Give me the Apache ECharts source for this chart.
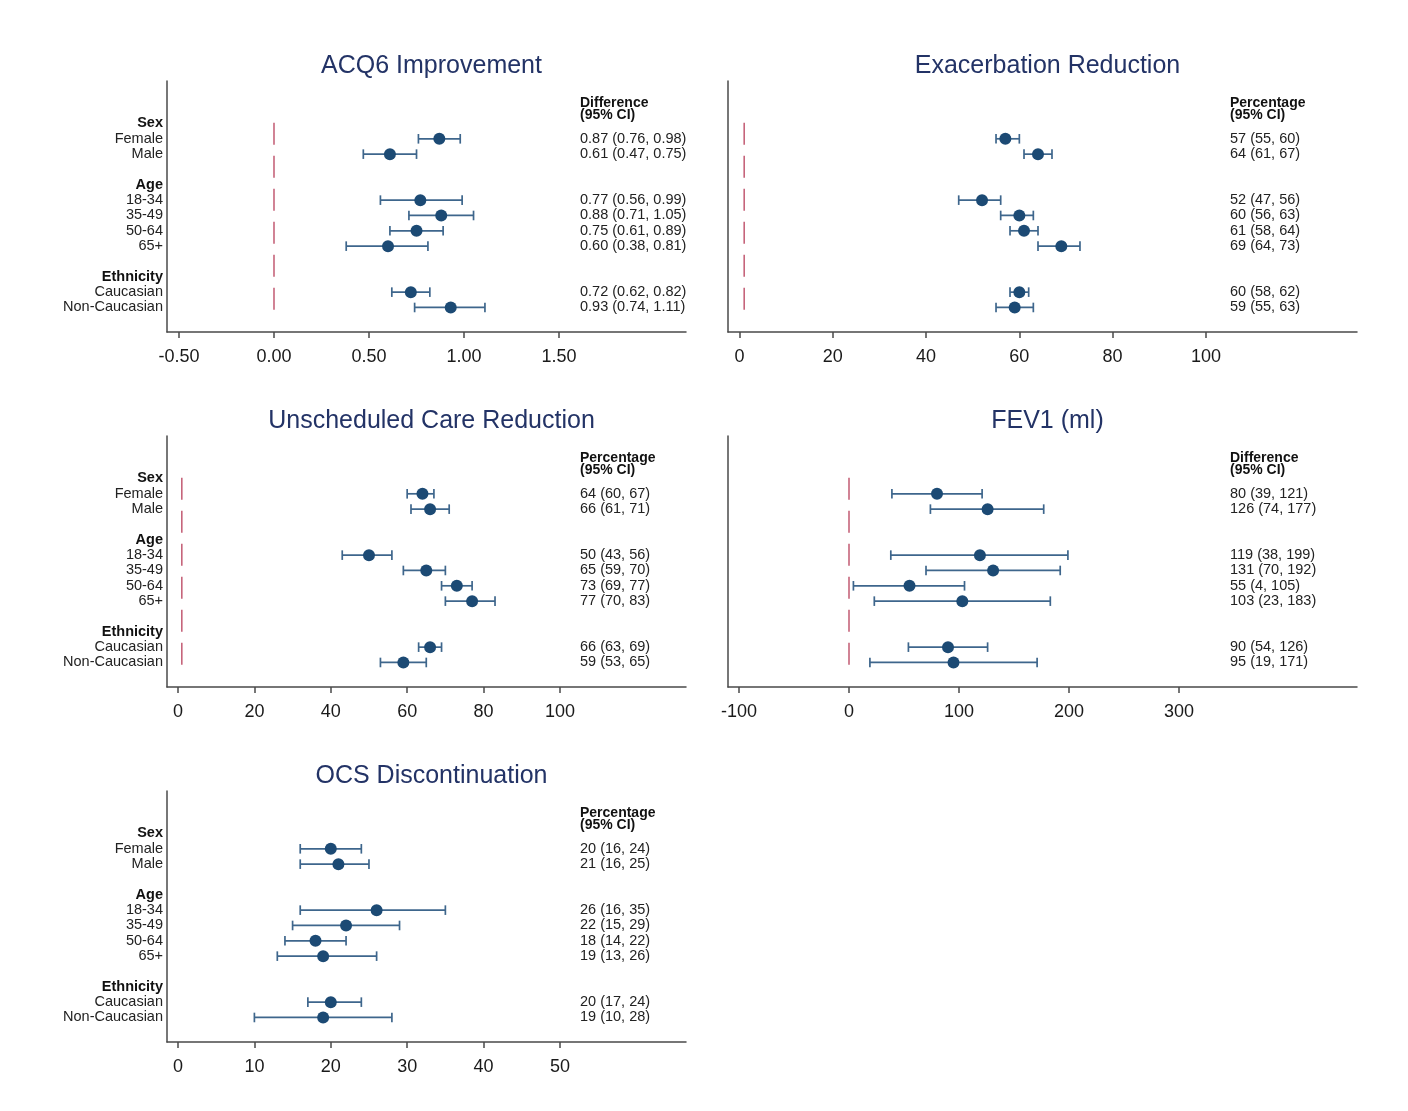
<!DOCTYPE html>
<html>
<head>
<meta charset="utf-8">
<script src="https://cdn.jsdelivr.net/npm/echarts@6/dist/echarts.min.js"></script>
<style>
  html, body { margin: 0; padding: 0; background: #fff; }
  #main { width: 1408px; height: 1111px; }
</style>
</head>
<body>
<div id="main"></div>
<script>
// rows of the forest plot (index = row position, 0 is the header line of the CI column)
const rowLabels = ['', 'Sex', 'Female', 'Male', '', 'Age', '18-34', '35-49', '50-64', '65+', '', 'Ethnicity', 'Caucasian', 'Non-Caucasian'];
const headerRows = [1, 5, 11];
const itemRows = [2, 3, 6, 7, 8, 9, 12, 13];

// ACQ6 improvement (difference)
const acqEst  = [0.87, 0.61, 0.77, 0.88, 0.75, 0.60, 0.72, 0.93];
const acqLow  = [0.76, 0.47, 0.56, 0.71, 0.61, 0.38, 0.62, 0.74];
const acqHigh = [0.98, 0.75, 0.99, 1.05, 0.89, 0.81, 0.82, 1.11];
// exacerbation reduction (%)
const exaEst  = [57, 64, 52, 60, 61, 69, 60, 59];
const exaLow  = [55, 61, 47, 56, 58, 64, 58, 55];
const exaHigh = [60, 67, 56, 63, 64, 73, 62, 63];
// unscheduled care reduction (%)
const ucEst  = [64, 66, 50, 65, 73, 77, 66, 59];
const ucLow  = [60, 61, 43, 59, 69, 70, 63, 53];
const ucHigh = [67, 71, 56, 70, 77, 83, 69, 65];
// FEV1 (ml)
const fevEst  = [80, 126, 119, 131, 55, 103, 90, 95];
const fevLow  = [39, 74, 38, 70, 4, 23, 54, 19];
const fevHigh = [121, 177, 199, 192, 105, 183, 126, 171];
// OCS discontinuation (%)
const ocsEst  = [20, 21, 26, 22, 18, 19, 20, 19];
const ocsLow  = [16, 16, 16, 15, 14, 13, 17, 10];
const ocsHigh = [24, 25, 35, 29, 22, 26, 24, 28];

const acqTicks = [-0.5, 0, 0.5, 1, 1.5];
const pctTicks = [0, 20, 40, 60, 80, 100];
const fevTicks = [-100, 0, 100, 200, 300];
const ocsTicks = [0, 10, 20, 30, 40, 50];

const panels = [
  { title: 'ACQ6 Improvement', est: acqEst, low: acqLow, high: acqHigh, dec: 2, ticks: acqTicks, head: 'Difference', ref: 0, labels: true,
    left: 167, top: 81, width: 519, xmin: -0.563, xmax: 2.168, textOff: 106 },
  { title: 'Exacerbation Reduction', est: exaEst, low: exaLow, high: exaHigh, dec: 0, ticks: pctTicks, head: 'Percentage', ref: 1, labels: false,
    left: 728, top: 81, width: 629, xmin: -2.47, xmax: 132.4, textOff: 127 },
  { title: 'Unscheduled Care Reduction', est: ucEst, low: ucLow, high: ucHigh, dec: 0, ticks: pctTicks, head: 'Percentage', ref: 1, labels: true,
    left: 167, top: 436, width: 519, xmin: -2.88, xmax: 133, textOff: 106 },
  { title: 'FEV1 (ml)', est: fevEst, low: fevLow, high: fevHigh, dec: 0, ticks: fevTicks, head: 'Difference', ref: 0, labels: false,
    left: 728, top: 436, width: 629, xmin: -110, xmax: 461.8, textOff: 127 },
  { title: 'OCS Discontinuation', est: ocsEst, low: ocsLow, high: ocsHigh, dec: 0, ticks: ocsTicks, head: 'Percentage', ref: null, labels: true,
    left: 167, top: 791, width: 519, xmin: -1.44, xmax: 66.5, textOff: 106 }
];

const FONT = '"Liberation Sans", Arial, sans-serif';
const axisColor = '#4a4a4a';
const dotColor = '#1c4a74';
const barColor = '#3e668c';
const refColor = '#c25a72';
const yMin = -1.77, yMax = 14.6, gridH = 251;

function renderErr(params, api) {
  const y = api.value(2);
  const p1 = api.coord([api.value(0), y]);
  const p2 = api.coord([api.value(1), y]);
  const h = 4.8;
  const style = { stroke: barColor, lineWidth: 1.7, fill: null };
  return {
    type: 'group',
    children: [
      { type: 'line', shape: { x1: p1[0], y1: p1[1], x2: p2[0], y2: p2[1] }, style: style },
      { type: 'line', shape: { x1: p1[0], y1: p1[1] - h, x2: p1[0], y2: p1[1] + h }, style: style },
      { type: 'line', shape: { x1: p2[0], y1: p2[1] - h, x2: p2[0], y2: p2[1] + h }, style: style }
    ]
  };
}

const option = {
  animation: false,
  backgroundColor: '#fff',
  textStyle: { fontFamily: FONT },
  title: [], grid: [], xAxis: [], yAxis: [], series: []
};

panels.forEach(function (p, i) {
  const fmt = function (v) { return v.toFixed(p.dec); };
  option.title.push({
    text: p.title,
    left: p.left + p.width / 2,
    top: p.top - 32,
    textAlign: 'center',
    textStyle: { fontSize: 25, fontWeight: 'normal', color: '#233366', fontFamily: FONT }
  });
  option.grid.push({ left: p.left, top: p.top, width: p.width, height: gridH });
  option.xAxis.push({
    gridIndex: i, type: 'value', min: p.xmin, max: p.xmax,
    splitLine: { show: false },
    axisLine: { onZero: false, lineStyle: { color: axisColor, width: 1.5 } },
    axisTick: { customValues: p.ticks, length: 6, lineStyle: { color: axisColor, width: 1.5 } },
    axisLabel: { customValues: p.ticks, fontSize: 18, color: '#1a1a1a', margin: 16, fontFamily: FONT,
      formatter: function (v) { return p.dec ? v.toFixed(2) : String(v); } }
  });
  // left axis with the group labels
  option.yAxis.push({
    gridIndex: i, type: 'value', inverse: true, min: yMin, max: yMax,
    splitLine: { show: false },
    axisTick: { show: false },
    axisLine: { show: true, onZero: false, lineStyle: { color: axisColor, width: 1.5 } },
    axisLabel: {
      show: p.labels, customValues: headerRows.concat(itemRows), margin: 4,
      fontSize: 14.5, color: '#222', fontFamily: FONT,
      formatter: function (v) {
        const s = rowLabels[Math.round(v)];
        return headerRows.indexOf(Math.round(v)) >= 0 ? '{b|' + s + '}' : s;
      },
      rich: { b: { fontWeight: 'bold', fontSize: 14.5, color: '#111', fontFamily: FONT } }
    }
  });
  // right axis carrying the estimate (95% CI) text column
  option.yAxis.push({
    gridIndex: i, type: 'value', inverse: true, min: yMin, max: yMax, position: 'right',
    offset: -p.textOff,
    splitLine: { show: false }, axisTick: { show: false }, axisLine: { show: false, onZero: false },
    axisLabel: {
      customValues: [0].concat(itemRows), margin: 0, align: 'left',
      fontSize: 14.5, color: '#222', fontFamily: FONT,
      formatter: function (v) {
        const r = Math.round(v);
        if (r === 0) return '{h|' + p.head + '}\n{h|(95% CI)}';
        const k = itemRows.indexOf(r);
        return fmt(p.est[k]) + ' (' + fmt(p.low[k]) + ', ' + fmt(p.high[k]) + ')';
      },
      rich: { h: { fontWeight: 'bold', fontSize: 14, lineHeight: 11.5, color: '#111', fontFamily: FONT, padding: [2, 0, 0, 0] } }
    }
  });
  const yIdx = i * 2;
  if (p.ref !== null) {
    option.series.push({
      type: 'line', xAxisIndex: i, yAxisIndex: yIdx, symbol: 'none', silent: true,
      data: [[p.ref, itemRows[0] - 1.04], [p.ref, itemRows[itemRows.length - 1] + 0.26]],
      lineStyle: { color: refColor, width: 1.5, type: [22, 11] }
    });
  }
  option.series.push({
    type: 'custom', xAxisIndex: i, yAxisIndex: yIdx,
    renderItem: renderErr,
    encode: { x: [0, 1], y: 2 },
    data: itemRows.map(function (r, k) { return [p.low[k], p.high[k], r]; })
  });
  option.series.push({
    type: 'scatter', xAxisIndex: i, yAxisIndex: yIdx,
    symbolSize: 12, itemStyle: { color: dotColor, opacity: 1 },
    data: itemRows.map(function (r, k) { return [p.est[k], r]; })
  });
});

const chart = echarts.init(document.getElementById('main'));
chart.setOption(option);
</script>
</body>
</html>
